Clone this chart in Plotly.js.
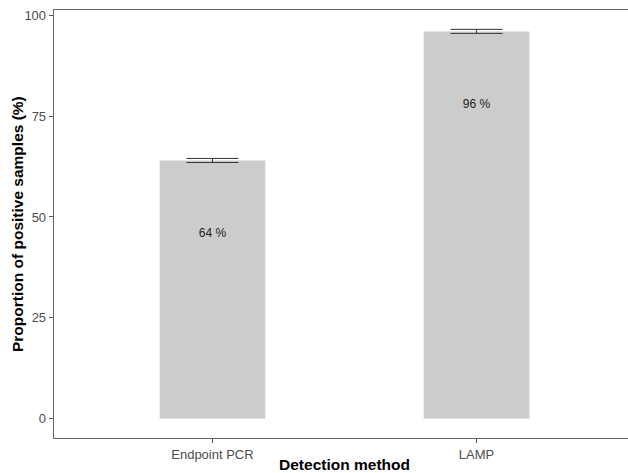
<!DOCTYPE html>
<html>
<head>
<meta charset="utf-8">
<script src="https://cdn.plot.ly/plotly-3.0.1.min.js"></script>
<style>html,body{margin:0;padding:0;overflow:hidden;background:#fff}</style>
</head>
<body>
<div style="width:628px;height:473px;overflow:hidden"><div id="chart" style="width:640px;height:473px"></div></div>
<script>
const categories = ["Endpoint PCR", "LAMP"];
const proportions = [64, 96];
const errors = [0.5, 0.5];
const barLabels = ["64 %", "96 %"];
const yTickVals = [0, 25, 50, 75, 100];

const labelOffset = 18.3;

const bars = {
  type: "bar",
  x: categories,
  y: proportions,
  width: 0.4,
  marker: {color: "#cccccc", line: {width: 0}},
  error_y: {type: "data", array: errors, visible: true, color: "#333333", thickness: 1, width: 26},
  hoverinfo: "skip",
  showlegend: false
};

const labels = {
  type: "scatter",
  mode: "text",
  x: categories,
  y: proportions.map(v => v - labelOffset),
  text: barLabels,
  textfont: {family: "Liberation Sans, Arial, sans-serif", size: 12, color: "#222222"},
  hoverinfo: "skip",
  showlegend: false
};

const layout = {
  width: 640, height: 473,
  margin: {l: 54, r: 5, t: 9.5, b: 34.5},
  paper_bgcolor: "#ffffff",
  plot_bgcolor: "#ffffff",
  font: {family: "Liberation Sans, Arial, sans-serif"},
  xaxis: {
    type: "category",
    range: [-0.6, 1.6],
    showgrid: false, zeroline: false,
    showline: true, linecolor: "#666666", linewidth: 1.3, mirror: true,
    ticks: "outside", ticklen: 4, tickcolor: "#555555", tickwidth: 1,
    tickfont: {size: 13, color: "#4d4d4d"},
    title: {text: "<b>Detection method</b>", font: {size: 15.5, color: "#000000"}, standoff: 3}
  },
  yaxis: {
    range: [-4.8, 101.3],
    tickvals: yTickVals,
    showgrid: false, zeroline: false,
    showline: true, linecolor: "#666666", linewidth: 1.3,
    ticks: "outside", ticklen: 4, tickcolor: "#555555", tickwidth: 1,
    tickfont: {size: 13, color: "#4d4d4d"}
  },
  annotations: [{
    text: "<b>Proportion of positive samples (%)</b>",
    xref: "paper", yref: "paper", x: 0, y: 0.5,
    xanchor: "center", yanchor: "middle", xshift: -37,
    textangle: -90, showarrow: false,
    font: {family: "Liberation Sans, Arial, sans-serif", size: 15.5, color: "#000000"}
  }]
};

Plotly.newPlot("chart", [bars, labels], layout, {displayModeBar: false, staticPlot: true});
</script>
</body>
</html>
